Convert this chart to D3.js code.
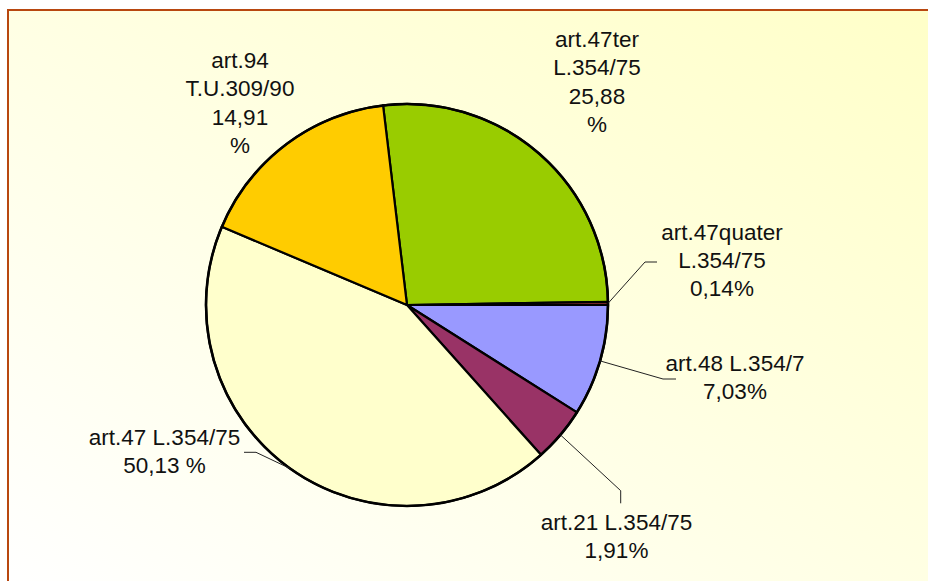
<!DOCTYPE html>
<html>
<head>
<meta charset="utf-8">
<script src="https://cdn.jsdelivr.net/npm/d3@7/dist/d3.min.js"></script>
<style>
  html, body { margin: 0; padding: 0; background: #fff; }
  svg { display: block; }
</style>
</head>
<body>
<script>
// ---- data ----
const categories = ["art.47ter L.354/75", "art.47quater L.354/75", "art.48 L.354/7", "art.21 L.354/75", "art.47 L.354/75", "art.94 T.U.309/90"];
const values = [26.65, 0.25, 8.97, 4.42, 42.97, 16.74];
const labelLines = [
  ["art.47ter", "L.354/75", "25,88", "%"],
  ["art.47quater", "L.354/75", "0,14%"],
  ["art.48 L.354/7", "7,03%"],
  ["art.21 L.354/75", "1,91%"],
  ["art.47 L.354/75", "50,13 %"],
  ["art.94", "T.U.309/90", "14,91", "%"]
];
const colors = ["#99CC00", "#993333", "#9999FF", "#993366", "#FFFFCC", "#FFCC00"];

// ---- layout (styles) ----
const W = 928, H = 581;
const cx = 407, cy = 305, R = 201;
const startDeg = -6.84;
const lineH = 28.4;
const fontSize = 22.5;
// label anchor: [x center, first baseline]
const labelPos = [
  [597, 47],
  [722, 239.5],
  [735, 371],
  [616.5, 530],
  [164.5, 445],
  [240, 68]
];
// leader: [elbow, end] or null
const leaders = [
  null,
  [[645, 262], [657, 262]],
  [[663, 379], [676, 379]],
  [[620.7, 490.7], [620.7, 503.3]],
  [[256, 452.3], [244, 452.3]],
  null
];

const svg = d3.select("body").append("svg").attr("width", W).attr("height", H);
const defs = svg.append("defs");
const grad = defs.append("linearGradient").attr("id", "bg")
  .attr("x1", "0%").attr("y1", "100%").attr("x2", "100%").attr("y2", "0%");
grad.append("stop").attr("offset", "0%").attr("stop-color", "#FFFFFF");
grad.append("stop").attr("offset", "100%").attr("stop-color", "#FFFFC8");

svg.append("rect").attr("x", 8).attr("y", 10).attr("width", W).attr("height", H)
  .attr("fill", "url(#bg)").attr("stroke", "#B8470F").attr("stroke-width", 2);

const pie = d3.pie().sort(null).value(d => d)
  .startAngle(startDeg * Math.PI / 180)
  .endAngle(startDeg * Math.PI / 180 + 2 * Math.PI);
const arcs = pie(values);
const arc = d3.arc().innerRadius(0).outerRadius(R);

const g = svg.append("g").attr("transform", `translate(${cx},${cy})`);
g.selectAll("path.slice").data(arcs).join("path")
  .attr("class", "slice")
  .attr("d", arc)
  .attr("fill", (d, i) => colors[i])
  .attr("stroke", "#000").attr("stroke-width", 2.2).attr("stroke-linejoin", "round");
g.append("circle").attr("r", R).attr("fill", "none").attr("stroke", "#000").attr("stroke-width", 2.6);

// leader lines
arcs.forEach((d, i) => {
  if (!leaders[i]) return;
  const mid = (d.startAngle + d.endAngle) / 2;
  const sx = cx + R * Math.sin(mid), sy = cy - R * Math.cos(mid);
  svg.append("polyline")
    .attr("points", [[sx, sy], leaders[i][0], leaders[i][1]].map(p => p.join(",")).join(" "))
    .attr("fill", "none").attr("stroke", "#222").attr("stroke-width", 1);
});

// labels
labelLines.forEach((lines, i) => {
  const t = svg.append("text")
    .attr("text-anchor", "middle")
    .attr("font-family", "'Liberation Sans', Arial, sans-serif")
    .attr("font-size", fontSize)
    .attr("fill", "#111");
  lines.forEach((s, j) => {
    t.append("tspan").attr("x", labelPos[i][0]).attr("y", labelPos[i][1] + j * lineH).text(s);
  });
});
</script>
</body>
</html>
